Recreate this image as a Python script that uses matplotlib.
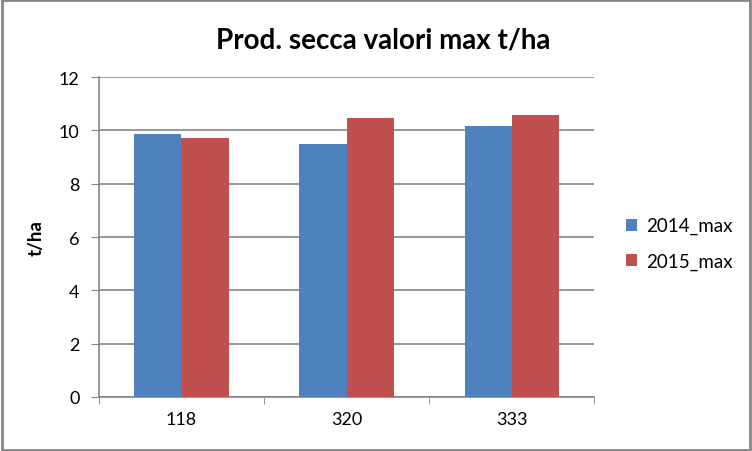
import matplotlib
matplotlib.use('Agg')
import matplotlib.pyplot as plt
import numpy as np
from matplotlib.patches import Rectangle

plt.rcParams['font.family'] = ['Lato', 'DejaVu Sans']

categories = ['118', '320', '333']
max_2014 = [9.87, 9.50, 10.17]
max_2015 = [9.72, 10.47, 10.59]
series = ['2014_max', '2015_max']
colors = ['#4f81bd', '#c0504d']

fig = plt.figure(figsize=(7.52, 4.52), dpi=100)
ax = fig.add_axes([0.1316, 0.1195, 0.6584, 0.7079])

x = np.arange(len(categories))
w = 0.285
ax.bar(x - w / 2, max_2014, w, color=colors[0], label=series[0], zorder=3)
ax.bar(x + w / 2, max_2015, w, color=colors[1], label=series[1], zorder=3)

ax.set_xlim(-0.5, 2.5)
ax.set_ylim(0, 12)
ax.set_yticks(range(0, 13, 2))
ax.set_xticks(x)
ax.set_xticklabels(categories)
ax.set_xticks([-0.5, 0.5, 1.5, 2.5], minor=True)
ax.tick_params(axis='x', which='major', length=0, labelsize=13, pad=10)
ax.tick_params(axis='x', which='minor', length=5, color='#868686', direction='out')
ax.tick_params(axis='y', length=6, color='#868686', labelsize=13, pad=8)

ax.grid(axis='y', color='#868686', linewidth=1.2, zorder=0)
for s in ['top', 'right']:
    ax.spines[s].set_visible(False)
for s in ['left', 'bottom']:
    ax.spines[s].set_color('#868686')
    ax.spines[s].set_linewidth(1.2)

ax.set_ylabel('t/ha', fontsize=13.5, fontweight='bold', labelpad=10)
fig.text(0.509, 0.91, 'Prod. secca valori max t/ha', ha='center', va='center',
         fontsize=20, fontweight='bold')

leg = ax.legend(loc='center left', bbox_to_anchor=(1.03, 0.48), frameon=False,
                fontsize=13.5, handlelength=0.6, handleheight=0.6,
                labelspacing=0.95, handletextpad=0.5)

fig.patches.append(Rectangle((0.002, 0.003), 0.995, 0.994, transform=fig.transFigure,
                             fill=False, edgecolor='#868686', linewidth=2))

plt.savefig('out.png', dpi=100)
